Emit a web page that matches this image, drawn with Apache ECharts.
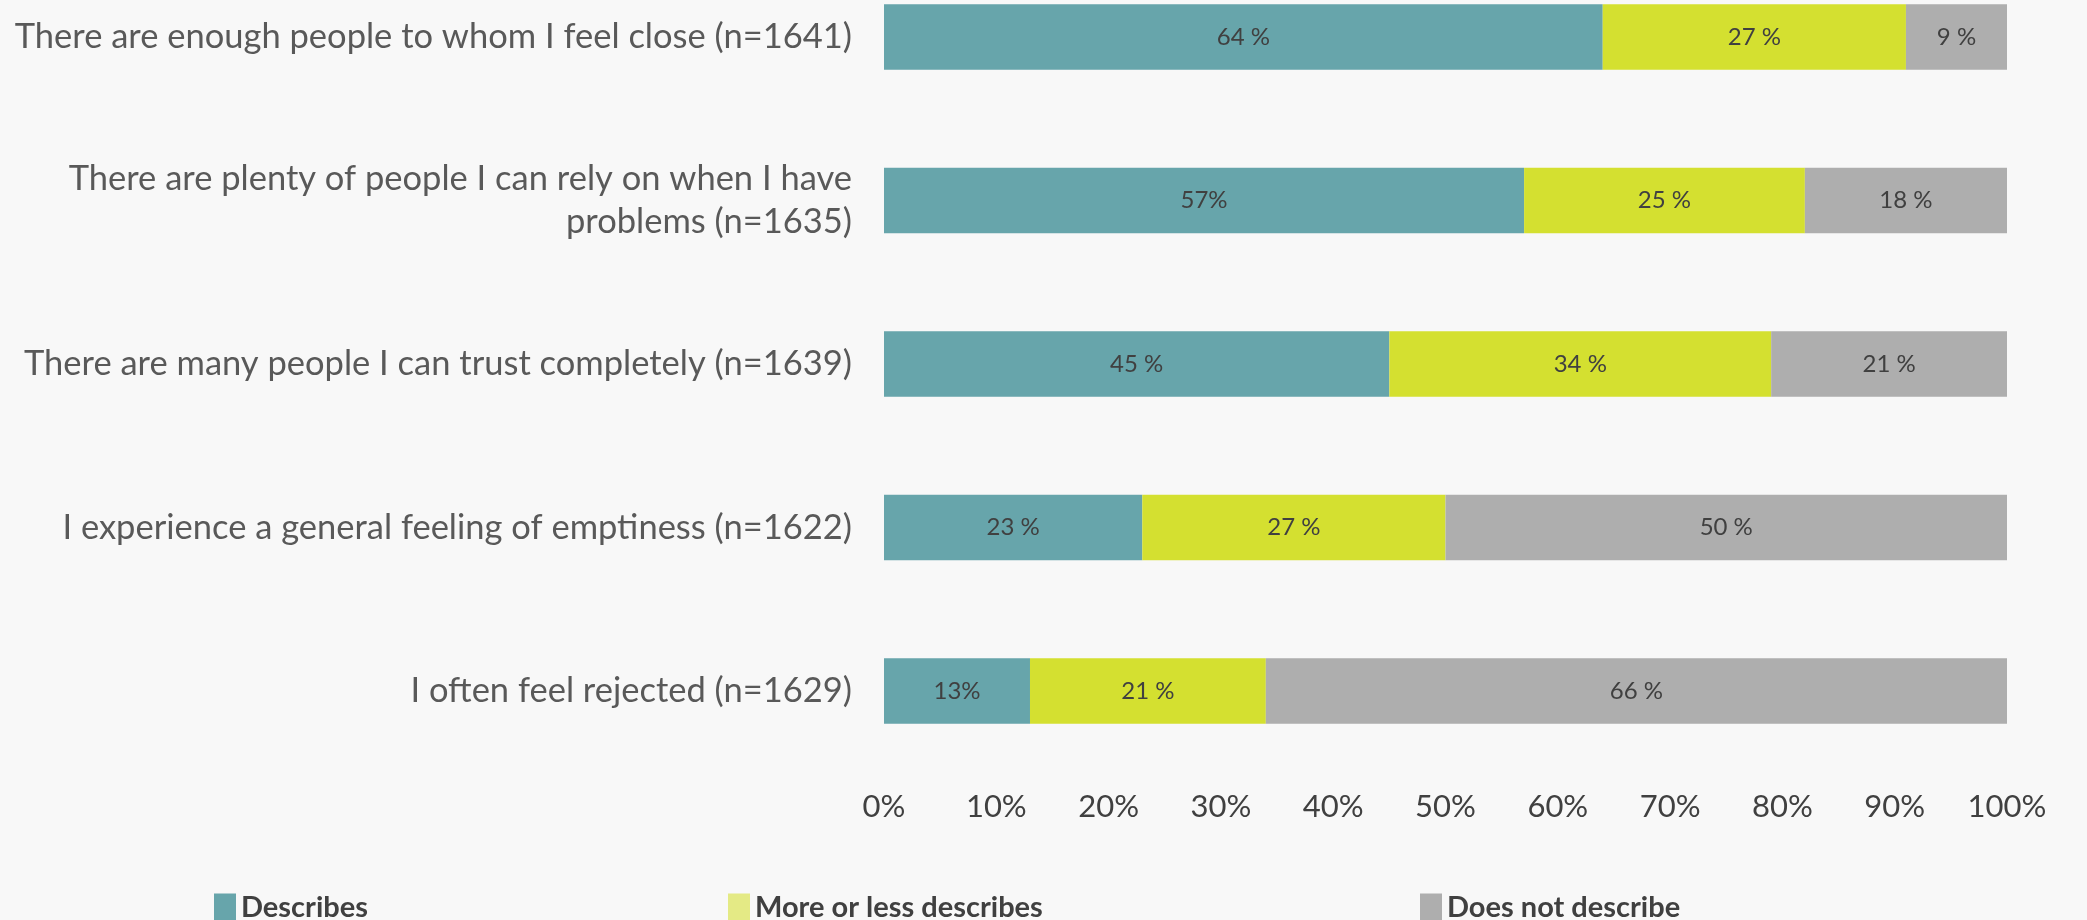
<!DOCTYPE html>
<html>
<head>
<meta charset="utf-8">
<script src="https://cdn.jsdelivr.net/npm/echarts@6/dist/echarts.min.js"></script>
<style>
html,body{margin:0;padding:0;background:#f8f8f8;}
#chart{width:2087px;height:920px;}
</style>
</head>
<body>
<div id="chart"></div>
<script>
const categories = [
  "There are enough people to whom I feel close (n=1641)",
  "There are plenty of people I can rely on when I have\nproblems (n=1635)",
  "There are many people I can trust completely (n=1639)",
  "I experience a general feeling of emptiness (n=1622)",
  "I often feel rejected (n=1629)"
];
const seriesNames = ["Describes", "More or less describes", "Does not describe"];
const describes = [64, 57, 45, 23, 13];
const moreOrLess = [27, 25, 34, 27, 21];
const notDescribe = [9, 18, 21, 50, 66];
const describesLabels = ["64 %", "57%", "45 %", "23 %", "13%"];
const moreOrLessLabels = ["27 %", "25 %", "34 %", "27 %", "21 %"];
const notDescribeLabels = ["9 %", "18 %", "21 %", "50 %", "66 %"];
const xTicks = [0, 10, 20, 30, 40, 50, 60, 70, 80, 90, 100];

const colors = ["#67a5ab", "#d4e030", "#aeaeae"];
const legendColors = ["#67a5ab", "#e4ea85", "#aeaeae"];
const FONT = "Lato";

const chart = echarts.init(document.getElementById('chart'));

function mkSeries(name, values, labels, color) {
  return {
    name: name,
    type: 'bar',
    stack: 'total',
    barCategoryGap: '60%',
    data: values,
    itemStyle: { color: color },
    label: {
      show: true,
      position: 'inside',
      formatter: p => labels[p.dataIndex],
      color: '#404040',
      fontFamily: FONT,
      fontSize: 24
    },
    emphasis: { disabled: true }
  };
}

function mkLegend(i, left) {
  return {
    left: left,
    top: 888,
    itemWidth: 22,
    itemHeight: 28,
    itemGap: 0,
    icon: 'rect',
    data: [{ name: seriesNames[i], itemStyle: { color: legendColors[i] } }],
    textStyle: {
      fontFamily: FONT,
      fontSize: 29,
      fontWeight: 'bold',
      color: '#404040'
    },
    selectedMode: false
  };
}

chart.setOption({
  backgroundColor: '#f8f8f8',
  animation: false,
  grid: { left: 884, right: 80, top: 37, height: 654, containLabel: false },
  legend: [mkLegend(0, 209), mkLegend(1, 723), mkLegend(2, 1415)],
  xAxis: {
    type: 'value',
    min: 0,
    max: 100,
    interval: 10,
    axisLine: { show: false },
    axisTick: { show: false },
    splitLine: { show: false },
    axisLabel: {
      margin: 100,
      formatter: v => xTicks.indexOf(v) >= 0 ? v + '%' : '',
      color: '#404040',
      fontFamily: FONT,
      fontSize: 31
    }
  },
  yAxis: {
    type: 'category',
    inverse: true,
    boundaryGap: false,
    data: categories,
    axisLine: { show: false },
    axisTick: { show: false },
    splitLine: { show: false },
    axisLabel: {
      margin: 32,
      align: 'right',
      color: '#595959',
      fontFamily: FONT,
      fontSize: 34.5,
      lineHeight: 43
    }
  },
  series: [
    mkSeries(seriesNames[0], describes, describesLabels, colors[0]),
    mkSeries(seriesNames[1], moreOrLess, moreOrLessLabels, colors[1]),
    mkSeries(seriesNames[2], notDescribe, notDescribeLabels, colors[2])
  ]
});
</script>
</body>
</html>
